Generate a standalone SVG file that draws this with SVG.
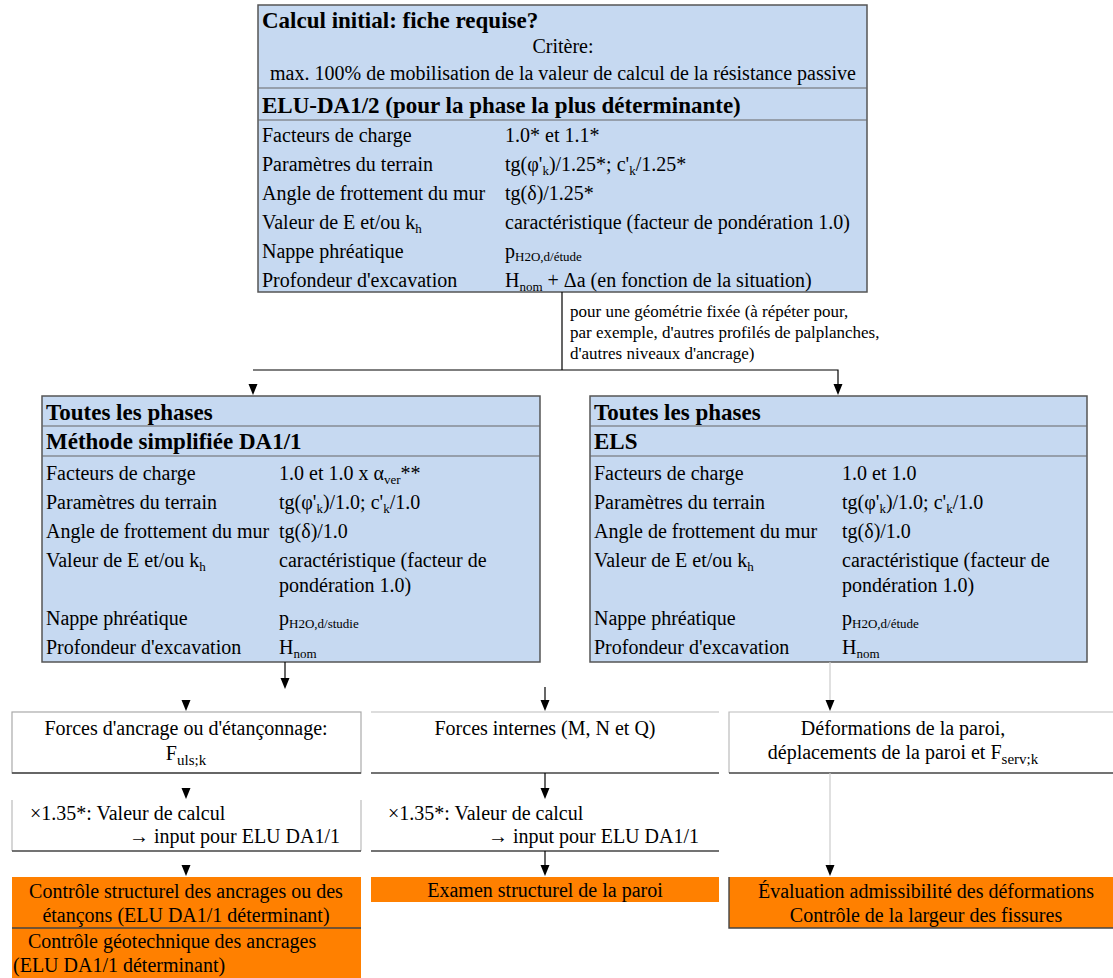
<svg xmlns="http://www.w3.org/2000/svg" width="1113" height="978" viewBox="0 0 1113 978">
<defs>
<style>
text{font-family:"Liberation Serif","Times New Roman",serif;font-size:20px;fill:#000}
.h{font-weight:bold;font-size:23px}
.s{font-size:17px}
.c{text-anchor:middle}
.e{text-anchor:end}
.blue{fill:#c6d9f1;stroke:#555;stroke-width:1.5}
.sep{stroke:#666;stroke-width:1.2}
.lite{stroke:#bbb;stroke-width:1.2;fill:none}
.dark{stroke:#444;stroke-width:1.4;fill:none}
.or{fill:#ff8000}
.ln{stroke:#000;stroke-width:1.2;fill:none}
.gl{stroke:#ccc;stroke-width:1.2;fill:none}
.ah{fill:#000}
</style>
</defs>

<g id="top">
<rect class="blue" x="258" y="5" width="609" height="287"/>
<line class="sep" x1="258" y1="88" x2="867" y2="88"/>
<line class="sep" x1="258" y1="120" x2="867" y2="120"/>
<text class="h" x="262" y="28">Calcul initial: fiche requise?</text>
<text class="c" x="563" y="53">Critère:</text>
<text class="c" x="563" y="80">max. 100% de mobilisation de la valeur de calcul de la résistance passive</text>
<text class="h" x="262" y="113">ELU-DA1/2 (pour la phase la plus déterminante)</text>
<text x="262" y="142">Facteurs de charge</text>
<text x="505" y="142">1.0* et 1.1*</text>
<text x="262" y="171">Paramètres du terrain</text>
<text x="505" y="171">tg(φ'<tspan font-size="13" dy="4">k</tspan><tspan dy="-4">)/1.25*; c'</tspan><tspan font-size="13" dy="4">k</tspan><tspan dy="-4">/1.25*</tspan></text>
<text x="262" y="200">Angle de frottement du mur</text>
<text x="505" y="200">tg(δ)/1.25*</text>
<text x="262" y="229">Valeur de E et/ou k<tspan font-size="13" dy="4">h</tspan></text>
<text x="505" y="229">caractéristique (facteur de pondération 1.0)</text>
<text x="262" y="258">Nappe phréatique</text>
<text x="505" y="258">p<tspan font-size="13" dy="3">H2O,d/étude</tspan></text>
<text x="262" y="287">Profondeur d'excavation</text>
<text x="505" y="287">H<tspan font-size="13" dy="4">nom</tspan><tspan dy="-4"> + Δa (en fonction de la situation)</tspan></text>
</g>

<g id="left">
<rect class="blue" x="42" y="396" width="498" height="266"/>
<line class="sep" x1="42" y1="426" x2="540" y2="426"/>
<line class="sep" x1="42" y1="456" x2="540" y2="456"/>
<text class="h" x="46" y="420">Toutes les phases</text>
<text class="h" x="46" y="449">Méthode simplifiée DA1/1</text>
<text x="46" y="480">Facteurs de charge</text>
<text x="279" y="480">1.0 et 1.0 x α<tspan font-size="13" dy="4">ver</tspan><tspan dy="-4">**</tspan></text>
<text x="46" y="509">Paramètres du terrain</text>
<text x="279" y="509">tg(φ'<tspan font-size="13" dy="4">k</tspan><tspan dy="-4">)/1.0; c'</tspan><tspan font-size="13" dy="4">k</tspan><tspan dy="-4">/1.0</tspan></text>
<text x="46" y="538">Angle de frottement du mur</text>
<text x="279" y="538">tg(δ)/1.0</text>
<text x="46" y="567">Valeur de E et/ou k<tspan font-size="13" dy="4">h</tspan></text>
<text x="279" y="567">caractéristique (facteur de</text>
<text x="279" y="592">pondération 1.0)</text>
<text x="46" y="625">Nappe phréatique</text>
<text x="279" y="625">p<tspan font-size="13" dy="3">H2O,d/studie</tspan></text>
<text x="46" y="654">Profondeur d'excavation</text>
<text x="279" y="654">H<tspan font-size="13" dy="4">nom</tspan></text>
</g>

<g id="right">
<rect class="blue" x="590" y="396" width="497" height="266"/>
<line class="sep" x1="590" y1="426" x2="1087" y2="426"/>
<line class="sep" x1="590" y1="456" x2="1087" y2="456"/>
<text class="h" x="594" y="420">Toutes les phases</text>
<text class="h" x="594" y="449">ELS</text>
<text x="594" y="480">Facteurs de charge</text>
<text x="842" y="480">1.0 et 1.0</text>
<text x="594" y="509">Paramètres du terrain</text>
<text x="842" y="509">tg(φ'<tspan font-size="13" dy="4">k</tspan><tspan dy="-4">)/1.0; c'</tspan><tspan font-size="13" dy="4">k</tspan><tspan dy="-4">/1.0</tspan></text>
<text x="594" y="538">Angle de frottement du mur</text>
<text x="842" y="538">tg(δ)/1.0</text>
<text x="594" y="567">Valeur de E et/ou k<tspan font-size="13" dy="4">h</tspan></text>
<text x="842" y="567">caractéristique (facteur de</text>
<text x="842" y="592">pondération 1.0)</text>
<text x="594" y="625">Nappe phréatique</text>
<text x="842" y="625">p<tspan font-size="13" dy="3">H2O,d/étude</tspan></text>
<text x="594" y="654">Profondeur d'excavation</text>
<text x="842" y="654">H<tspan font-size="13" dy="4">nom</tspan></text>
</g>

<g id="forces-ancrage">
<rect x="12" y="712" width="349" height="61" fill="#fff" stroke="#aaa" stroke-width="1.2"/>
<line class="dark" x1="12" y1="773" x2="361" y2="773"/>
<text class="c" x="186" y="735">Forces d'ancrage ou d'étançonnage:</text>
<text class="c" x="186" y="760">F<tspan font-size="15" dy="5">uls;k</tspan></text>
</g>
<g id="forces-internes">
<line class="lite" x1="371" y1="712" x2="719" y2="712"/>
<line class="dark" x1="371" y1="773" x2="719" y2="773"/>
<text class="c" x="545" y="735">Forces internes (M, N et Q)</text>
</g>
<g id="deformations">
<path class="lite" d="M729,773 V712 H1113"/>
<line class="dark" x1="729" y1="773" x2="1113" y2="773"/>
<text class="c" x="903" y="735">Déformations de la paroi,</text>
<text class="c" x="903" y="759">déplacements de la paroi et F<tspan font-size="15" dy="5">serv;k</tspan></text>
</g>

<g id="calcul-a">
<path class="lite" d="M12,851 V800 M361,800 V851"/>
<line class="dark" x1="12" y1="851" x2="361" y2="851"/>
<text x="30" y="820">×1.35*: Valeur de calcul</text>
<text class="e" x="340" y="843">→ input pour ELU DA1/1</text>
</g>
<g id="calcul-b">
<line class="dark" x1="371" y1="851" x2="719" y2="851"/>
<text x="388" y="820">×1.35*: Valeur de calcul</text>
<text class="e" x="699" y="843">→ input pour ELU DA1/1</text>
</g>

<g id="controle-ancrages">
<rect class="or" x="12" y="877" width="349" height="51"/>
<rect class="or" x="12" y="928" width="349" height="50"/>
<line class="dark" x1="12" y1="928" x2="361" y2="928"/>
<text class="c" x="186" y="898">Contrôle structurel des ancrages ou des</text>
<text class="c" x="186" y="922">étançons (ELU DA1/1 déterminant)</text>
<text x="28" y="948">Contrôle géotechnique des ancrages</text>
<text x="13" y="972">(ELU DA1/1 déterminant)</text>
</g>
<g id="examen-paroi">
<rect class="or" x="371" y="877" width="348" height="25"/>
<text class="c" x="545" y="897">Examen structurel de la paroi</text>
</g>
<g id="evaluation">
<rect class="or" x="729" y="877" width="384" height="51"/>
<path class="dark" d="M729,877 V928 H1113"/>
<text class="c" x="926" y="898">Évaluation admissibilité des déformations</text>
<text class="c" x="926" y="922">Contrôle de la largeur des fissures</text>
</g>

<g id="connectors">
<path class="ln" d="M562,292 V370 M253,370 H838 V384"/>
<polygon class="ah" points="248.5,384 257.5,384 253,395"/>
<polygon class="ah" points="833.5,384 842.5,384 838,395"/>
<path class="ln" d="M285,662 V678"/>
<polygon class="ah" points="280.5,678 289.5,678 285,689"/>
<polygon class="ah" points="181.5,700 190.5,700 186,711"/>
<path class="ln" d="M545,687 V700"/>
<polygon class="ah" points="540.5,700 549.5,700 545,711"/>
<path class="gl" d="M830,662 V700"/>
<polygon class="ah" points="825.5,700 834.5,700 830,711"/>
<polygon class="ah" points="181.5,788 190.5,788 186,799"/>
<path class="ln" d="M545,773 V788"/>
<polygon class="ah" points="540.5,788 549.5,788 545,799"/>
<polygon class="ah" points="181.5,865 190.5,865 186,876"/>
<path class="ln" d="M545,851 V865"/>
<polygon class="ah" points="540.5,865 549.5,865 545,876"/>
<path class="gl" d="M830,773 V865"/>
<polygon class="ah" points="825.5,865 834.5,865 830,876"/>
<text class="s" x="570" y="317">pour une géométrie fixée (à répéter pour,</text>
<text class="s" x="570" y="338">par exemple, d'autres profilés de palplanches,</text>
<text class="s" x="570" y="359">d'autres niveaux d'ancrage)</text>
</g>
</svg>
